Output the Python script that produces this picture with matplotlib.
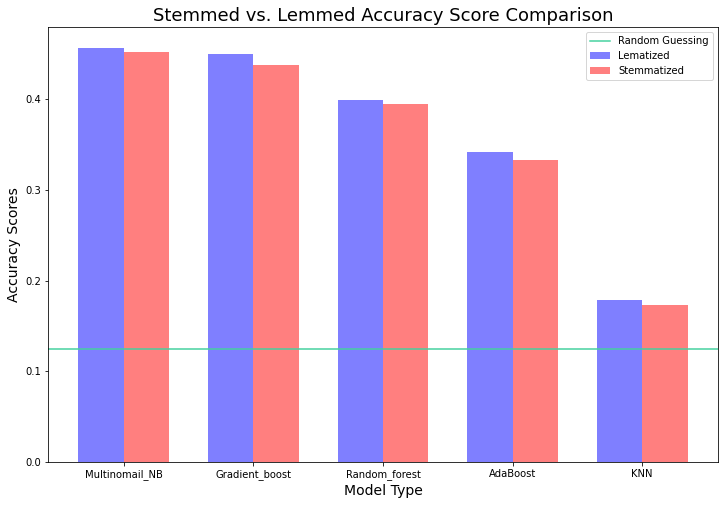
import numpy as np
import matplotlib
matplotlib.use("Agg")
import matplotlib.pyplot as plt

models = ["Multinomail_NB", "Gradient_boost", "Random_forest", "AdaBoost", "KNN"]
lem_scores = [0.457, 0.450, 0.3995, 0.342, 0.179]
stem_scores = [0.4525, 0.438, 0.395, 0.333, 0.173]
random_guess = 0.125

width = 0.35
x = np.arange(len(models))

fig = plt.figure(figsize=(728 / 72, 505 / 72), dpi=72)
ax = fig.add_axes([48 / 728, 1 - 462 / 505, 670 / 728, 435 / 505])

ax.bar(x, lem_scores, width, color="blue", alpha=0.5, label="Lematized")
ax.bar(x + width, stem_scores, width, color="red", alpha=0.5, label="Stemmatized")
ax.axhline(random_guess, color="#44d19f", linewidth=1.5, label="Random Guessing")

ax.set_xticks(x + width / 2)
ax.set_xticklabels(models, fontsize=10)
ax.tick_params(axis="y", labelsize=10)
ax.set_xlabel("Model Type", fontsize=14)
ax.set_ylabel("Accuracy Scores", fontsize=14)
ax.set_title("Stemmed vs. Lemmed Accuracy Score Comparison", fontsize=18)
ax.legend(loc="upper right", fontsize=10)

fig.savefig("out.png", dpi=72)
